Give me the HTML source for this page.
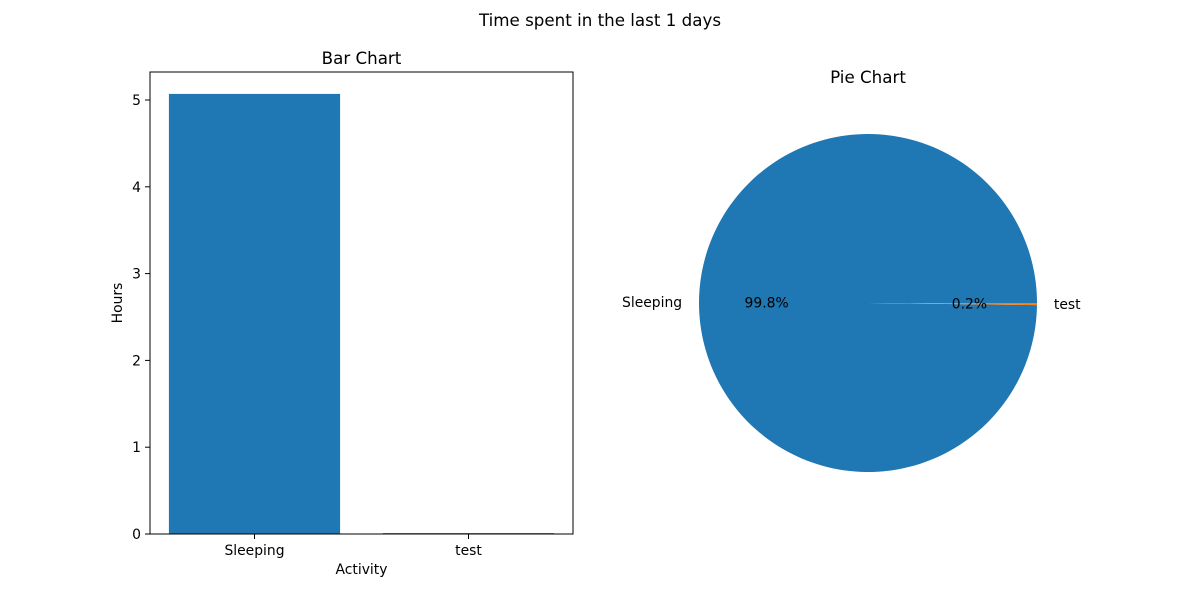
<!DOCTYPE html>
<html><head><meta charset="utf-8"><style>
body{margin:0;background:#fff;}
svg text{font-family:"DejaVu Sans","Liberation Sans",sans-serif;}
</style></head><body>
<svg id="c" width="1200" height="600" xmlns="http://www.w3.org/2000/svg">
<text x="600" y="26" text-anchor="middle" font-size="16.7">Time spent in the last 1 days</text>
<text x="361.5" y="64" text-anchor="middle" font-size="16.7">Bar Chart</text>
<text x="868" y="83" text-anchor="middle" font-size="16.7">Pie Chart</text>
<g id="bars"></g><g id="pie"></g>
</svg>
<script>
const categories = ["Sleeping", "test"];
const hours = [5.07, 0.0102];
const yTicks = [0, 1, 2, 3, 4, 5];
const NS = "http://www.w3.org/2000/svg";
function mk(t, a, p){const e=document.createElementNS(NS,t);for(const k in a)e.setAttribute(k,a[k]);p.appendChild(e);return e;}
const L=150,R=573,T=72,B=534;
const yS=v=>B-v*86.8;
const step=214, c0=254.5;
const xc=i=>c0+i*step;
const g=document.getElementById('bars');
categories.forEach((c,i)=>{
  const r=mk('rect',{x:xc(i)-step*0.4,y:yS(hours[i]),width:step*0.8,height:B-yS(hours[i]),fill:'#1f77b4'},g);
  
  
  mk('line',{x1:xc(i),x2:xc(i),y1:B,y2:B+5,stroke:'#000'},g);
  const t=mk('text',{x:xc(i),y:B+21,'text-anchor':'middle','font-size':13.9},g);t.textContent=c;
  
  
});
yTicks.forEach(v=>{
  mk('line',{x1:L-5,x2:L,y1:yS(v),y2:yS(v),stroke:'#000'},g);
  const t=mk('text',{x:L-9,y:yS(v)+5,'text-anchor':'end','font-size':13.9},g);t.textContent=v;
  
  
});
const ax=mk('rect',{x:L,y:T,width:R-L,height:B-T,fill:'none',stroke:'#000','stroke-width':1},g);


let t=mk('text',{x:361.5,y:574,'text-anchor':'middle','font-size':13.9},g);t.textContent='Activity';


t=mk('text',{x:122,y:303,'text-anchor':'middle','font-size':13.9,transform:'rotate(-90 122 303)'},g);t.textContent='Hours';


const p=document.getElementById('pie');
const cx=868,cy=303,rad=169,colors=['#1f77b4','#ff7f0e'];
const tot=hours.reduce((a,b)=>a+b,0);
let a0=0;
hours.forEach((v,i)=>{
  const a1=a0+v/tot*2*Math.PI;
  const P=a=>[cx+rad*Math.cos(a),cy-rad*Math.sin(a)];
  const [x0,y0]=P(a0),[x1,y1]=P(a1);
  const large=(a1-a0)>Math.PI?1:0;
  const w=mk('path',{d:`M${cx},${cy} L${x0},${y0} A${rad},${rad} 0 ${large} 0 ${x1},${y1} Z`,fill:colors[i]},p);
  
  
  const m=(a0+a1)/2;
  const lx=cx+1.1*rad*Math.cos(m),ly=cy-1.1*rad*Math.sin(m);
  const lt=mk('text',{x:lx,y:ly+5,'text-anchor':Math.cos(m)>=0?'start':'end','font-size':13.9},p);lt.textContent=categories[i];
  
  
  const px=cx+0.6*rad*Math.cos(m),py=cy-0.6*rad*Math.sin(m);
  const pt=mk('text',{x:px,y:py+5,'text-anchor':'middle','font-size':13.9},p);pt.textContent=(v/tot*100).toFixed(1)+'%';
  
  
  a0=a1;
});
</script>
</body></html>
